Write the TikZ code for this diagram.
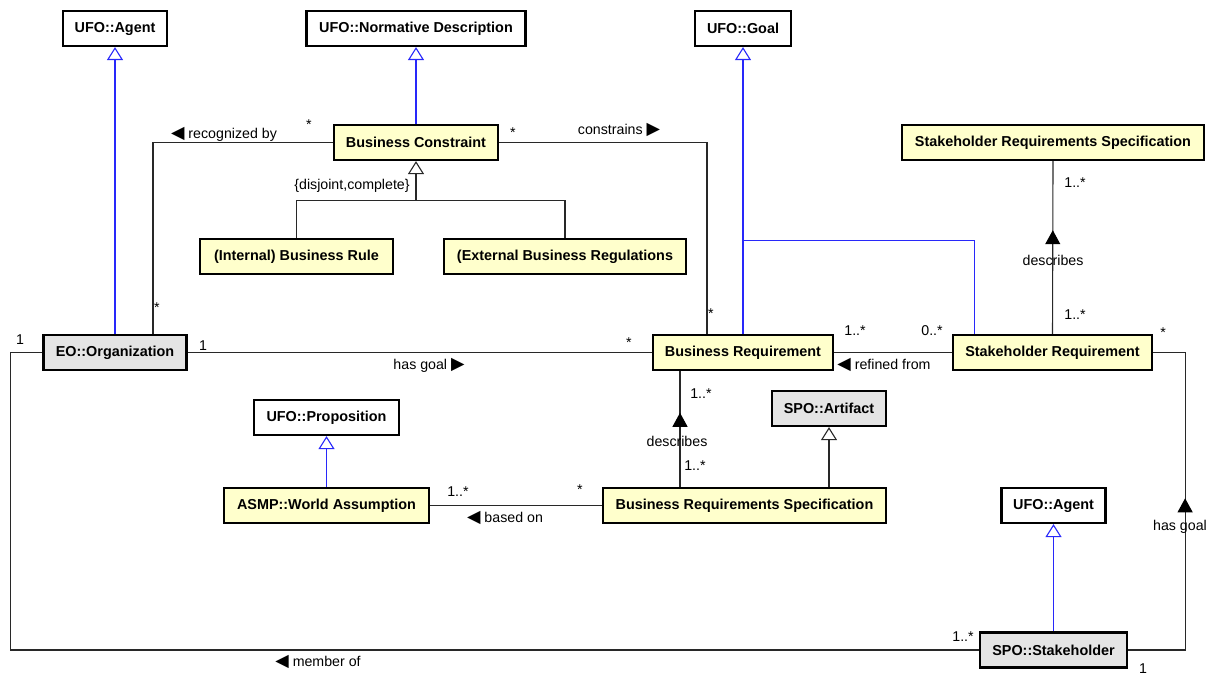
\documentclass[tikz,border=0pt]{standalone}
\usepackage{fontspec}
\setmainfont{Liberation Sans}
\newfontfamily\symfont{DejaVu Sans}
\usetikzlibrary{arrows.meta, calc, decorations.markings}

\definecolor{classyellow}{RGB}{255,255,204}
\definecolor{classgray}{RGB}{228,228,228}
\definecolor{genblue}{RGB}{40,40,250}
\definecolor{linegray}{RGB}{40,40,40}

\newcommand{\trileft}{{\symfont\fontsize{17.5}{16}\selectfont\char"25C0}}
\newcommand{\triright}{{\symfont\fontsize{17.5}{16}\selectfont\char"25B6}}

\tikzstyle{cls} = [rectangle, draw=black, line width=2.2pt, minimum height=35pt, text centered, inner sep=2pt, font=\fontsize{14.4}{16}\selectfont\bfseries, fill=white]
\tikzstyle{ycls} = [cls, fill=classyellow]
\tikzstyle{gcls} = [cls, fill=classgray]
\tikzstyle{assoc} = [draw=linegray, line width=1.1pt]
\tikzstyle{gen} = [assoc, -{Triangle[open, width=16pt, length=13pt]}]
\tikzstyle{bluegen} = [draw=genblue, line width=1.1pt, -{Triangle[open, width=16pt, length=13pt]}]
\tikzstyle{blueline} = [draw=genblue, line width=1.1pt]
\tikzstyle{lbl} = [inner sep=0pt, font=\fontsize{14.2}{16}\selectfont]
\tikzset{midtri/.style={postaction={decorate}, decoration={markings, mark=at position #1 with {\arrow[black]{Triangle[width=15pt, length=14pt]}}}}}

\begin{document}
\begin{tikzpicture}[x=1pt, y=-1pt]
\useasboundingbox (0,0) rectangle (1222,677);

% classes
\node (agent) [cls, minimum width=104pt] at (115,28.5) {UFO::Agent};
\node (nd) [cls, minimum width=219pt] at (416,28.5) {UFO::Normative Description};
\node (goal) [cls, minimum width=96pt] at (743,28.5) {UFO::Goal};
\node (bc) [ycls, minimum width=164pt] at (416,142.5) {Business Constraint};
\node (srs) [ycls, minimum width=302pt] at (1053,142.5) {Stakeholder Requirements Specification};
\node (ibr) [ycls, minimum width=193pt] at (296.5,256.5) {(Internal) Business Rule};
\node (ebr) [ycls, minimum width=242pt] at (565,256.5) {(External Business Regulations};
\node (org) [gcls, minimum width=143pt] at (115,352.5) {EO::Organization};
\node (br) [ycls, minimum width=180pt] at (743,352.5) {Business Requirement};
\node (sr) [ycls, minimum width=199pt] at (1052.5,352.5) {Stakeholder Requirement};
\node (prop) [cls, minimum width=145pt] at (326.5,417.5) {UFO::Proposition};
\node (art) [gcls, minimum width=114pt] at (829,408.5) {SPO::Artifact};
\node (wa) [ycls, minimum width=205pt] at (326.5,505.5) {ASMP::World Assumption};
\node (brs) [ycls, minimum width=283pt] at (744.5,505.5) {Business Requirements Specification};
\node (agent2) [cls, minimum width=104pt] at (1053.5,505.5) {UFO::Agent};
\node (sh) [gcls, minimum width=147pt] at (1053.5,650) {SPO::Stakeholder};

% generalizations
\draw [bluegen] (org.north) -- (agent.south);
\draw [bluegen] (bc.north) -- (nd.south);
\draw [bluegen] (br.north) -- (goal.south);
\draw [blueline] ($(sr.north)+(-78,0)$) |- ($(goal.south)+(0,193)$);
\draw [bluegen] (wa.north) -- (prop.south);
\draw [bluegen] (sh.north) -- (agent2.south);
\coordinate (gs) at ($(bc.south)+(0,39)$);
\draw [gen] (gs) -- (bc.south);
\draw [assoc] (ibr.north) |- (gs) -| (ebr.north);
\draw [gen] (brs.north -| art.south) -- (art.south);

% associations
\draw [assoc] (bc.west) -| ($(org.north)+(38,0)$);
\draw [assoc] (bc.east) -| ($(br.north)+(-36,0)$);
\draw [assoc] (org.east) -- (br.west);
\draw [assoc] (org.west) -- ++(-32,0) |- (sh.west);
\draw [assoc] (br.east) -- (sr.west);
\draw [assoc, midtri=0.60] (sr.north) -- (srs.south);
\draw [assoc, midtri=0.54] (sh.east) -- ++(57,0) |- (sr.east);
\draw [assoc, midtri=0.64] ($(brs.north)+(-64.5,0)$) -- ($(br.south)+(-63,0)$);
\draw [assoc] (brs.west) -- (wa.east);

% labels
\node (m1) [lbl] at (309,125) {*};
\node (l1) [lbl] at (224,134) {\trileft\ recognized by};
\node (m2) [lbl] at (157,308) {*};
\node (l2) [lbl] at (352,186) {\{disjoint,complete\}};
\node (m3) [lbl] at (513,133) {*};
\node (l3) [lbl] at (619,130) {constrains \triright};
\node (m4) [lbl] at (711,314) {*};
\node (m5) [lbl] at (20,340) {1};
\node (m6) [lbl] at (203,346) {1};
\node (m7) [lbl] at (629,343) {*};
\node (l4) [lbl] at (429,365) {has goal \triright};
\node (m8) [lbl] at (855,331) {1..*};
\node (m9) [lbl] at (932,331) {0..*};
\node (l5) [lbl] at (884,365) {\trileft\ refined from};
\node (m10) [lbl] at (1075,183) {1..*};
\node (l6) [lbl] at (1053,260) {describes};
\node (m11) [lbl] at (1075,315) {1..*};
\node (m12) [lbl] at (1163,333) {*};
\node (m13) [lbl] at (701,394) {1..*};
\node (l7) [lbl] at (677,441) {describes};
\node (m14) [lbl] at (695,466) {1..*};
\node (m15) [lbl] at (458,492) {1..*};
\node (m16) [lbl] at (580,490) {*};
\node (l8) [lbl] at (505,518) {\trileft\ based on};
\node (l9) [lbl] at (1180,527) {has goal};
\node (m17) [lbl] at (963,637) {1..*};
\node (m18) [lbl] at (1143,669) {1};
\node (l10) [lbl] at (318,662) {\trileft\ member of};

\end{tikzpicture}
\end{document}
